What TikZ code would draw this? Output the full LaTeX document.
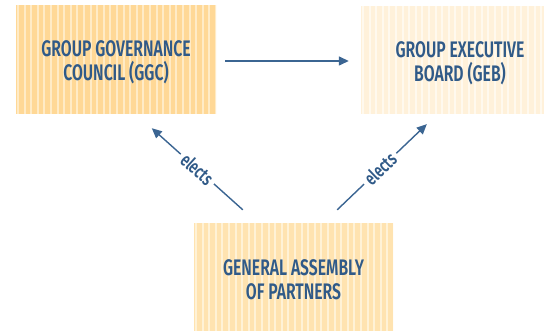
\documentclass[tikz,border=0pt]{standalone}
\usepackage{fontspec}
\newfontfamily\condfont[FakeStretch=0.7]{Fira Sans SemiBold}
\usetikzlibrary{arrows.meta}
\definecolor{txtblue}{HTML}{305A88}
\definecolor{arrblue}{HTML}{3B6592}
\definecolor{ggcbase}{HTML}{FFD896}
\definecolor{ggcstripe}{HTML}{FFEBC6}
\definecolor{gebbase}{HTML}{FFF1DA}
\definecolor{gebstripe}{HTML}{FFF9EE}
\definecolor{gapbase}{HTML}{FFE3B0}
\definecolor{gapstripe}{HTML}{FFF2D6}
\tikzset{
  boxnode/.style 2 args={rectangle, fill=#1, draw=none, inner sep=0pt,
    path picture={
      \foreach \i in {0,...,32}{
        \draw[#2, line width=1.9pt]
          ([xshift=2pt+\i*6.6pt]path picture bounding box.south west) --
          ([xshift=2pt+\i*6.6pt]path picture bounding box.north west);
      }
    }},
  boxtext/.style={inner sep=0pt, text=txtblue, align=center,
    font=\condfont\fontsize{22.5}{24}\selectfont},
  arr/.style={draw=arrblue, line width=1.4pt,
    -{Triangle[length=10pt,width=9pt]}},
  lbl/.style={fill=white, text=txtblue, sloped, inner sep=4pt,
    font=\condfont\fontsize{19}{19}\selectfont},
}
\begin{document}
\begin{tikzpicture}[x=1pt,y=-1pt]
\useasboundingbox[fill=white] (0,0) rectangle (544,331);
\node[boxnode={ggcbase}{ggcstripe}, minimum width=200pt, minimum height=109pt]
  (GGC) at (116,59.5) {};
\node[boxtext] (GGCt) at ([yshift=-2.5pt]GGC.center) {GROUP GOVERNANCE\\COUNCIL (GGC)};
\node[boxnode={gebbase}{gebstripe}, minimum width=198pt, minimum height=108pt]
  (GEB) at (460,60) {};
\node[boxtext] (GEBt) at ([yshift=-3pt]GEB.center) {GROUP EXECUTIVE\\BOARD (GEB)};
\node[boxnode={gapbase}{gapstripe}, minimum width=199pt, minimum height=114pt]
  (GAP) at (293.5,280) {};
\node[boxtext] (GAPt) at (GAP.center) {GENERAL ASSEMBLY\\OF PARTNERS};
\draw[arr] ([xshift=9pt,yshift=-1.5pt]GGC.east) -- ([xshift=-12pt,yshift=-1pt]GEB.west);
\draw[arr] ([xshift=49pt,yshift=13pt]GAP.north west) --
  node[lbl, pos=0.5] {elects} ([xshift=136pt,yshift=-14pt]GGC.south west);
\draw[arr] ([xshift=-56pt,yshift=13pt]GAP.north east) --
  node[lbl, pos=0.48] {elects} ([xshift=66pt,yshift=-10pt]GEB.south west);
\end{tikzpicture}
\end{document}
